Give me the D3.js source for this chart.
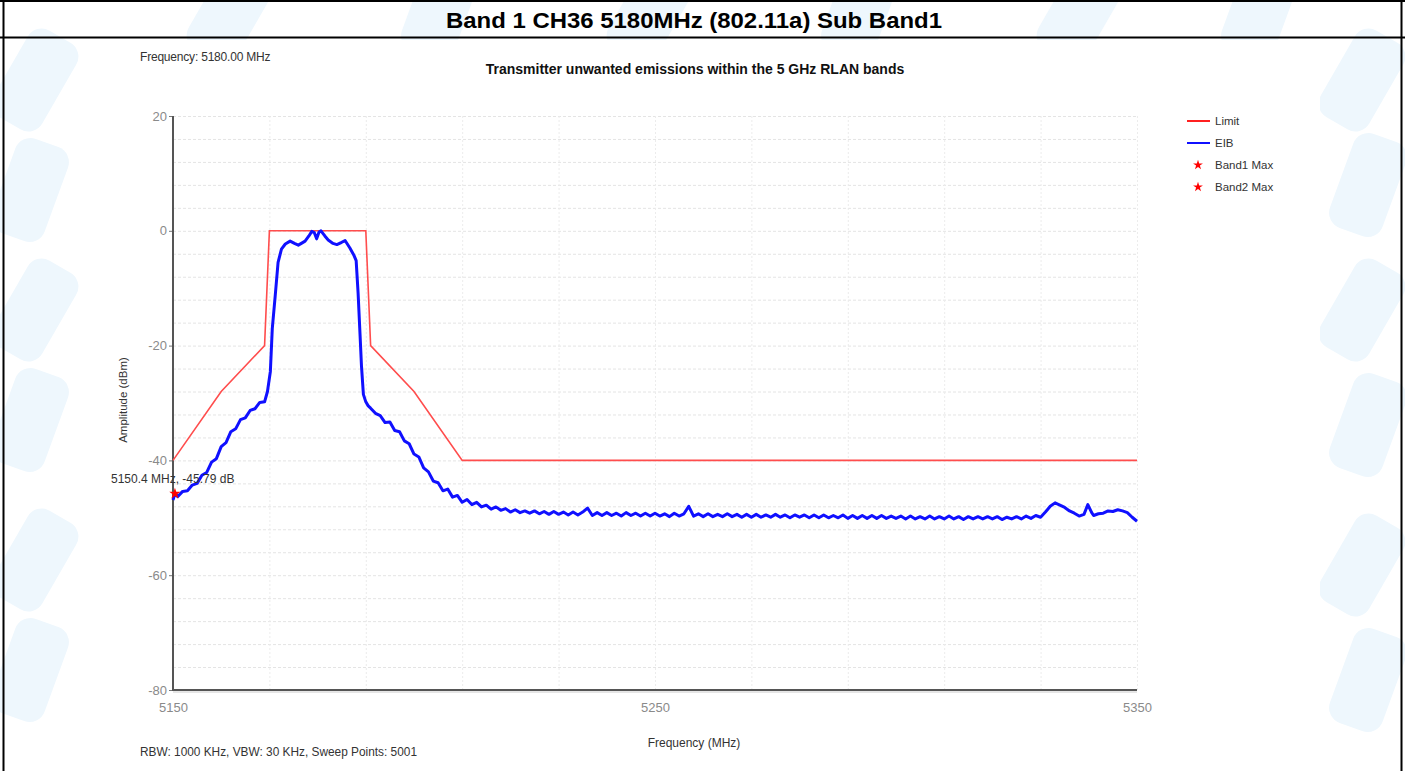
<!DOCTYPE html>
<html>
<head>
<meta charset="utf-8">
<script src="https://cdn.jsdelivr.net/npm/d3@7"></script>
<style>
  html, body { margin: 0; padding: 0; background: #fff; }
  svg { display: block; }
  text { font-family: "Liberation Sans", Arial, sans-serif; }
</style>
</head>
<body>
<svg id="chart" width="1405" height="771"></svg>
<script>
// ---------------- data ----------------
const pageTitle = "Band 1 CH36 5180MHz (802.11a) Sub Band1";
const chartTitle = "Transmitter unwanted emissions within the 5 GHz RLAN bands";
const freqNote = "Frequency: 5180.00 MHz";
const sweepNote = "RBW: 1000 KHz,  VBW: 30 KHz,  Sweep Points: 5001";
const xLabel = "Frequency (MHz)";
const yLabel = "Amplitude (dBm)";
const xTicks = [5150, 5250, 5350];
const yTicks = [20, 0, -20, -40, -60, -80];

const limitFreq  = [5150, 5160, 5169, 5170, 5190, 5191, 5200, 5210, 5350];
const limitLevel = [-40, -28, -20, 0, 0, -20, -28, -40, -40];

const eibFreq = [
  5150, 5150.4, 5151, 5152, 5153, 5154, 5155, 5156, 5157, 5158, 5159,
  5160, 5161, 5162, 5163, 5164, 5165, 5166, 5167, 5168, 5169, 5169.6,
  5170.2, 5170.6, 5171.2, 5171.8, 5172.5, 5173.3, 5174.3, 5175.2, 5176.0, 5176.8,
  5177.4, 5178.2, 5178.8, 5179.3, 5179.8, 5180.3, 5180.7, 5181.5, 5182.2, 5183.2,
  5184.0, 5185.0, 5185.7, 5186.7, 5187.5, 5188.0, 5188.4, 5188.8, 5189.1, 5189.5,
  5190, 5190.5, 5191, 5192, 5193, 5194, 5195, 5196, 5197, 5198, 5199,
  5200, 5201, 5202, 5203, 5204, 5205, 5206, 5207, 5208, 5209,
  5210, 5211, 5212, 5213, 5214, 5215, 5216, 5217, 5218, 5219,
  5220, 5221, 5222, 5223, 5224, 5225, 5226, 5227, 5228, 5229,
  5230, 5231, 5232, 5233, 5234, 5235, 5236, 5237, 5238, 5239,
  5240, 5241, 5242, 5243, 5244, 5245, 5246, 5247, 5248, 5249,
  5250, 5251, 5252, 5253, 5254, 5255, 5256, 5257, 5258, 5259,
  5260, 5261, 5262, 5263, 5264, 5265, 5266, 5267, 5268, 5269,
  5270, 5271, 5272, 5273, 5274, 5275, 5276, 5277, 5278, 5279,
  5280, 5281, 5282, 5283, 5284, 5285, 5286, 5287, 5288, 5289,
  5290, 5291, 5292, 5293, 5294, 5295, 5296, 5297, 5298, 5299,
  5300, 5301, 5302, 5303, 5304, 5305, 5306, 5307, 5308, 5309,
  5310, 5311, 5312, 5313, 5314, 5315, 5316, 5317, 5318, 5319,
  5320, 5321, 5322, 5323, 5324, 5325, 5326, 5327, 5328, 5329,
  5330, 5331, 5332, 5333, 5334, 5335, 5336, 5337, 5338, 5339,
  5339.8, 5340.6, 5341, 5342, 5343, 5344, 5345, 5346, 5347, 5348, 5349, 5350
];
const eibLevel = [
  -46.9, -45.8, -46.3, -45.4, -45.3, -44.3, -44.0, -42.6, -42.1, -40.3, -39.7,
  -37.6, -36.9, -35.0, -34.5, -32.9, -32.6, -31.3, -31.0, -29.9, -29.8, -28.0,
  -24.5, -17.0, -11.4, -5.5, -3.2, -2.3, -1.8, -2.2, -2.5, -2.1,
  -1.8, -0.9, -0.1, -0.3, -1.4, -0.2, 0.0, -0.9, -1.6, -2.2,
  -2.4, -2.0, -1.7, -3.0, -4.2, -5.2, -10.8, -18.0, -23.5, -28.5,
  -29.8, -30.5, -30.9, -31.8, -32.2, -33.4, -33.3, -34.8, -35.0, -36.6, -37.1,
  -38.9, -39.4, -41.3, -42.0, -43.6, -43.9, -45.3, -45.0, -46.4, -46.1,
  -47.3, -46.8, -47.7, -47.3, -48.1, -47.8, -48.5, -48.1, -48.7, -48.4,
  -49.0, -48.6, -49.1, -48.8, -49.2, -48.8, -49.3, -48.9, -49.4, -48.9,
  -49.4, -49.0, -49.5, -49.0, -49.5, -49.0, -48.3, -49.6, -49.1, -49.6,
  -49.1, -49.6, -49.2, -49.7, -49.1, -49.6, -49.2, -49.7, -49.2, -49.7,
  -49.2, -49.7, -49.3, -49.8, -49.2, -49.7, -49.3, -48.0, -49.7, -49.3,
  -49.8, -49.3, -49.8, -49.4, -49.8, -49.3, -49.8, -49.4, -49.9, -49.4,
  -49.9, -49.4, -49.9, -49.5, -49.9, -49.4, -49.9, -49.5, -50.0, -49.5,
  -49.9, -49.5, -50.0, -49.5, -50.0, -49.5, -50.0, -49.6, -50.0, -49.5,
  -50.1, -49.6, -50.1, -49.6, -50.1, -49.6, -50.1, -49.6, -50.1, -49.7,
  -50.1, -49.7, -50.2, -49.7, -50.2, -49.8, -50.2, -49.7, -50.2, -49.8,
  -50.2, -49.7, -50.2, -49.8, -50.3, -49.8, -50.2, -49.8, -50.2, -49.8,
  -50.2, -49.8, -50.3, -49.9, -50.2, -49.8, -50.2, -49.7, -50.1, -49.6,
  -49.9, -49.0, -48.0, -47.4, -47.8, -48.2, -48.8, -49.2, -49.7, -49.4,
  -47.7, -49.1, -49.6, -49.3, -49.2, -48.8, -48.9, -48.6, -48.8, -49.1, -49.9, -50.6
];

const markerFreq = [5150.4];
const markerLevel = [-45.79];
const markerLabel = ["5150.4 MHz, -45.79 dB"];

const legendNames = ["Limit", "EIB", "Band1 Max", "Band2 Max"];
const legendKinds = ["line", "line", "dot", "dot"];

// ---------------- drawing ----------------
const svg = d3.select("#chart");
const W = 1405, H = 771;

// faint watermark badges (background decoration, shapes only)
const wm = svg.append("g");
const badgeSpots = [
  [35, 80], [30, 190], [35, 310], [30, 420], [35, 560], [30, 670],
  [1362, 80], [1368, 185], [1362, 310], [1368, 425], [1362, 565], [1368, 680],
  [230, 12], [440, 8], [650, 12], [860, 8], [1080, 12], [1260, 8]
];
badgeSpots.forEach(([cx, cy], i) => {
  wm.append("rect").attr("x", -50).attr("y", -28).attr("width", 100).attr("height", 56)
    .attr("rx", 16).attr("fill", "#eef7fd")
    .attr("transform", `translate(${cx},${cy}) rotate(${i % 2 ? -70 : -60})`);
});

// chart image area (white)
svg.append("rect").attr("x", 100).attr("y", 40).attr("width", 1220).attr("height", 731).attr("fill", "#fff");

// table borders
svg.append("line").attr("x1", 0).attr("x2", W).attr("y1", 1).attr("y2", 1).attr("stroke", "#000").attr("stroke-width", 2);
svg.append("line").attr("x1", 0).attr("x2", W).attr("y1", 37.5).attr("y2", 37.5).attr("stroke", "#000").attr("stroke-width", 2);
svg.append("line").attr("x1", 3.5).attr("x2", 3.5).attr("y1", 0).attr("y2", H).attr("stroke", "#000").attr("stroke-width", 2);
svg.append("line").attr("x1", 1401.5).attr("x2", 1401.5).attr("y1", 0).attr("y2", H).attr("stroke", "#000").attr("stroke-width", 2);

svg.append("text").attr("x", 694).attr("y", 28).attr("text-anchor", "middle")
  .attr("font-size", 22).attr("font-weight", "bold").attr("fill", "#000")
  .attr("textLength", 496).attr("lengthAdjust", "spacingAndGlyphs").text(pageTitle);

// scales
const m = { left: 173, right: 1137, top: 116, bottom: 690 };
const x = d3.scaleLinear().domain([5150, 5350]).range([m.left, m.right]);
const y = d3.scaleLinear().domain([-80, 20]).range([m.bottom, m.top]);

// grid
const grid = svg.append("g");
grid.selectAll("line.h").data(d3.range(-76, 21, 4)).join("line")
  .attr("x1", m.left).attr("x2", m.right)
  .attr("y1", d => y(d) + 0.5).attr("y2", d => y(d) + 0.5)
  .attr("stroke", "#e4e4e4").attr("stroke-width", 1).attr("stroke-dasharray", "3,2");
grid.selectAll("line.v").data(d3.range(5170, 5351, 20)).join("line")
  .attr("y1", m.top).attr("y2", m.bottom)
  .attr("x1", d => x(d) + 0.5).attr("x2", d => x(d) + 0.5)
  .attr("stroke", "#ececec").attr("stroke-width", 1).attr("stroke-dasharray", "2,2");

// axes
const yAxis = d3.axisLeft(y).tickValues(yTicks).tickSize(4).tickPadding(2).tickFormat(d => String(d));
const gy = svg.append("g").attr("transform", `translate(${m.left},0)`).call(yAxis);
gy.select(".domain").remove();
gy.selectAll(".tick line").attr("stroke", "#777");
gy.selectAll(".tick text").attr("font-size", 13).attr("fill", "#8a8a8a")
  .attr("font-family", "'Liberation Sans', Arial, sans-serif");

const xAxis = d3.axisBottom(x).tickValues(xTicks).tickSize(0).tickPadding(13).tickFormat(d => String(d));
const gx = svg.append("g").attr("transform", `translate(0,${m.bottom})`).call(xAxis);
gx.select(".domain").remove();
gx.selectAll(".tick text").attr("font-size", 13).attr("fill", "#8a8a8a")
  .attr("font-family", "'Liberation Sans', Arial, sans-serif");

svg.append("line").attr("x1", m.left).attr("x2", m.left).attr("y1", m.top).attr("y2", m.bottom + 1)
  .attr("stroke", "#555").attr("stroke-width", 2);
svg.append("line").attr("x1", m.left).attr("x2", m.right).attr("y1", m.bottom).attr("y2", m.bottom)
  .attr("stroke", "#555").attr("stroke-width", 2);
svg.append("line").attr("x1", m.left).attr("x2", m.right).attr("y1", m.bottom + 2).attr("y2", m.bottom + 2)
  .attr("stroke", "#ccc").attr("stroke-width", 1);

// lines
const line = d3.line().x(d => x(d[0])).y(d => y(d[1]));
const limitData = limitFreq.map((f, i) => [f, limitLevel[i]]);
const eibData = eibFreq.map((f, i) => [f, eibLevel[i]]);

svg.append("path").datum(limitData).attr("d", line)
  .attr("fill", "none").attr("stroke", "#ff4d4d").attr("stroke-width", 1.6);
svg.append("path").datum(eibData).attr("d", line)
  .attr("fill", "none").attr("stroke", "#1010ff").attr("stroke-width", 3).attr("stroke-linejoin", "round");

// marker
const star = d3.symbol().type(d3.symbolStar).size(40);
markerFreq.forEach((f, i) => {
  svg.append("path").attr("d", star).attr("transform", `translate(${x(f)},${y(markerLevel[i])})`)
    .attr("fill", "#ff0000");
  svg.append("text").attr("x", 111).attr("y", y(markerLevel[i]) - 11)
    .attr("font-size", 12).attr("fill", "#333").text(markerLabel[i]);
});

// texts
svg.append("text").attr("x", 140).attr("y", 61).attr("font-size", 12).attr("fill", "#333")
  .attr("letter-spacing", -0.2).text(freqNote);
svg.append("text").attr("x", 695).attr("y", 74).attr("text-anchor", "middle")
  .attr("font-size", 14).attr("font-weight", "bold").attr("fill", "#111").text(chartTitle);
svg.append("text").attr("x", 694).attr("y", 747).attr("text-anchor", "middle")
  .attr("font-size", 12).attr("fill", "#333").text(xLabel);
svg.append("text").attr("transform", "translate(127,400) rotate(-90)").attr("text-anchor", "middle")
  .attr("font-size", 11.5).attr("fill", "#333").text(yLabel);
svg.append("text").attr("x", 140).attr("y", 756).attr("font-size", 12).attr("fill", "#333")
  .attr("textLength", 277).attr("lengthAdjust", "spacingAndGlyphs").text(sweepNote);

// legend
const lg = svg.append("g").attr("transform", "translate(1187,121)");
legendNames.forEach((name, i) => {
  const gy2 = i * 22;
  if (legendKinds[i] === "line") {
    lg.append("line").attr("x1", 0).attr("x2", 23).attr("y1", gy2).attr("y2", gy2)
      .attr("stroke", i === 0 ? "#ff2020" : "#1010ff").attr("stroke-width", 2);
  } else {
    lg.append("path").attr("d", d3.symbol().type(d3.symbolStar).size(30))
      .attr("transform", `translate(11,${gy2})`).attr("fill", "#ff0000");
  }
  lg.append("text").attr("x", 28).attr("y", gy2 + 4).attr("font-size", 11.5).attr("fill", "#333").text(name);
});
</script>
</body>
</html>
